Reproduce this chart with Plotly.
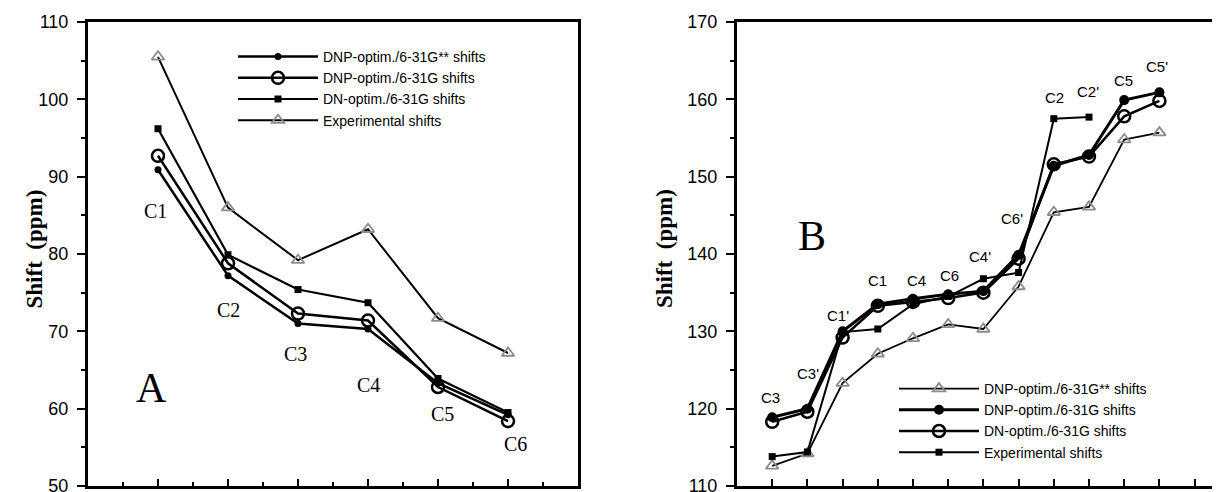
import plotly.graph_objects as go

W, H = 1220, 492
OX, OY = 8, 8  # page body margin offset compensation

# ---------------- data ----------------
labels_a = ["C1", "C2", "C3", "C4", "C5", "C6"]
a_dnp_631gss = [90.9, 77.2, 71.0, 70.3, 63.3, 59.2]
a_dnp_631g = [92.7, 78.8, 72.3, 71.4, 62.8, 58.4]
a_dn_631g = [96.2, 79.9, 75.4, 73.7, 63.9, 59.5]
a_exp = [105.5, 86.0, 79.2, 83.2, 71.7, 67.2]

labels_b = ["C3", "C3'", "C1'", "C1", "C4", "C6", "C4'", "C6'", "C2", "C2'", "C5", "C5'"]
b_dnp_631gss = [112.6, 114.2, 123.3, 127.1, 129.1, 130.9, 130.3, 135.8, 145.4, 146.1, 154.8, 155.7]
b_dnp_631g = [118.9, 120.0, 130.0, 133.5, 134.2, 134.8, 135.2, 139.9, 151.4, 152.8, 159.9, 160.9]
b_dn_631g = [118.3, 119.6, 129.2, 133.3, 133.8, 134.3, 135.0, 139.4, 151.6, 152.6, 157.8, 159.8]
b_exp = [113.8, 114.4, 129.9, 130.3, 133.5, 134.5, 136.8, 137.6, 157.5, 157.7]

legend_names = ["DNP-optim./6-31G** shifts", "DNP-optim./6-31G shifts",
                "DN-optim./6-31G shifts", "Experimental shifts"]

# label placements (data coords) for point labels
a_label_pos = [(0.96, 85.6), (2.0, 72.7), (2.97, 67.1), (4.0, 63.0), (5.07, 59.3), (6.1, 55.4)]
b_label_pos = [(0.94, 121.5), (2.02, 124.5), (2.87, 132.1), (4.0, 136.6), (5.09, 136.6),
               (6.05, 137.2), (6.9, 139.7), (7.81, 144.6), (9.03, 160.3), (9.97, 161.0),
               (10.97, 162.4), (11.93, 164.2)]

xa = list(range(1, len(labels_a) + 1))
xb = list(range(1, len(labels_b) + 1))
GRAY = "#8c8c8c"


def px_x(p):
    return (p - OX) / W


def px_y(p):
    return 1 - (p - OY) / H


fig = go.Figure()

# ---------- Panel A ----------
fig.add_trace(go.Scatter(x=xa, y=a_dnp_631gss, name=legend_names[0], mode="lines+markers",
                         line=dict(color="black", width=2.5),
                         marker=dict(symbol="circle", size=7, color="black"),
                         xaxis="x", yaxis="y", legend="legend"))
fig.add_trace(go.Scatter(x=xa, y=a_dnp_631g, name=legend_names[1], mode="lines+markers",
                         line=dict(color="black", width=2.5),
                         marker=dict(symbol="circle-open", size=12, color="black",
                                     line=dict(width=2.5, color="black")),
                         xaxis="x", yaxis="y", legend="legend"))
fig.add_trace(go.Scatter(x=xa, y=a_dn_631g, name=legend_names[2], mode="lines+markers",
                         line=dict(color="black", width=2.2),
                         marker=dict(symbol="square", size=7, color="black"),
                         xaxis="x", yaxis="y", legend="legend"))
fig.add_trace(go.Scatter(x=xa, y=a_exp, name=legend_names[3], mode="lines+markers",
                         line=dict(color="black", width=2),
                         marker=dict(symbol="triangle-up-open", size=11, color=GRAY,
                                     line=dict(width=1.8, color=GRAY)),
                         xaxis="x", yaxis="y", legend="legend"))

# ---------- Panel B ----------
fig.add_trace(go.Scatter(x=xb, y=b_dnp_631gss, name=legend_names[0], mode="lines+markers",
                         line=dict(color="black", width=1.8),
                         marker=dict(symbol="triangle-up-open", size=11, color=GRAY,
                                     line=dict(width=1.8, color=GRAY)),
                         xaxis="x2", yaxis="y2", legend="legend2"))
fig.add_trace(go.Scatter(x=xb, y=b_dnp_631g, name=legend_names[1], mode="lines+markers",
                         line=dict(color="black", width=3),
                         marker=dict(symbol="circle", size=10, color="black"),
                         xaxis="x2", yaxis="y2", legend="legend2"))
fig.add_trace(go.Scatter(x=xb, y=b_dn_631g, name=legend_names[2], mode="lines+markers",
                         line=dict(color="black", width=2.5),
                         marker=dict(symbol="circle-open", size=12, color="black",
                                     line=dict(width=2.5, color="black")),
                         xaxis="x2", yaxis="y2", legend="legend2"))
fig.add_trace(go.Scatter(x=xb[:len(b_exp)], y=b_exp, name=legend_names[3], mode="lines+markers",
                         line=dict(color="black", width=2),
                         marker=dict(symbol="square", size=7, color="black"),
                         xaxis="x2", yaxis="y2", legend="legend2"))

# ---------- annotations ----------
ann = []
for lab, (px, py) in zip(labels_a, a_label_pos):
    ann.append(dict(x=px, y=py, xref="x", yref="y", text=lab, showarrow=False,
                    font=dict(family="Liberation Serif", size=20, color="black")))
ann.append(dict(x=0.91, y=62.7, xref="x", yref="y", text="A", showarrow=False,
                font=dict(family="Liberation Serif", size=42, color="black")))
for lab, (px, py) in zip(labels_b, b_label_pos):
    ann.append(dict(x=px, y=py, xref="x2", yref="y2", text=lab, showarrow=False,
                    font=dict(family="Liberation Sans", size=15, color="black")))
ann.append(dict(x=2.13, y=142.3, xref="x2", yref="y2", text="B", showarrow=False,
                font=dict(family="Liberation Serif", size=42, color="black")))
for xc in (20, 665):
    ann.append(dict(x=px_x(xc), y=px_y(249), xref="paper", yref="paper",
                    text="<b>Shift  (ppm)</b>", textangle=-90, showarrow=False,
                    font=dict(family="Liberation Serif", size=23, color="black")))

ydom = [px_y(486), px_y(22)]
common_x = dict(showgrid=False, zeroline=False, showline=True, linecolor="black", linewidth=3,
                mirror=True, ticks="inside", ticklen=7, tickwidth=2, tickcolor="black",
                showticklabels=False, dtick=1, tick0=0, automargin=False,
                minor=dict(ticks="inside", ticklen=4, tickwidth=1.5, tickcolor="black", dtick=0.5))
common_y = dict(showgrid=False, zeroline=False, showline=True, linecolor="black", linewidth=3,
                ticks="outside", ticklen=8, tickwidth=2, tickcolor="black", dtick=10,
                automargin=False, ticklabeloverflow="allow", ticklabelstandoff=5,
                tickfont=dict(family="Liberation Sans", size=18, color="black"),
                minor=dict(ticks="outside", ticklen=4, tickwidth=1.5, tickcolor="black", dtick=5))

b_left = 737
b_right = W + OX
fig.update_layout(
    width=W, height=H, margin=dict(l=0, r=0, t=0, b=0, autoexpand=False),
    paper_bgcolor="white", plot_bgcolor="white",
    xaxis=dict(domain=[px_x(88), px_x(578)], range=[0, 7], anchor="y", **common_x),
    yaxis=dict(domain=ydom, range=[50, 110], anchor="x", mirror=True, **common_y),
    xaxis2=dict(domain=[px_x(b_left), 1.0], range=[0, (b_right - b_left) / 35.2], anchor="y2",
                **{**common_x, "minor": None}),
    yaxis2=dict(domain=ydom, range=[110, 170], anchor="x2", mirror=False, **common_y),
    legend=dict(x=(225) / W, y=1 - 33 / H, xanchor="left", yanchor="top",
                font=dict(family="Liberation Sans", size=14, color="black"),
                bgcolor="rgba(0,0,0,0)", itemwidth=80, tracegroupgap=0),
    legend2=dict(x=886 / W, y=1 - 365 / H, xanchor="left", yanchor="top",
                 font=dict(family="Liberation Sans", size=14, color="black"),
                 bgcolor="rgba(0,0,0,0)", itemwidth=80, tracegroupgap=0),
    annotations=ann,
    hovermode=False,
)

fig.write_html("out.html")
